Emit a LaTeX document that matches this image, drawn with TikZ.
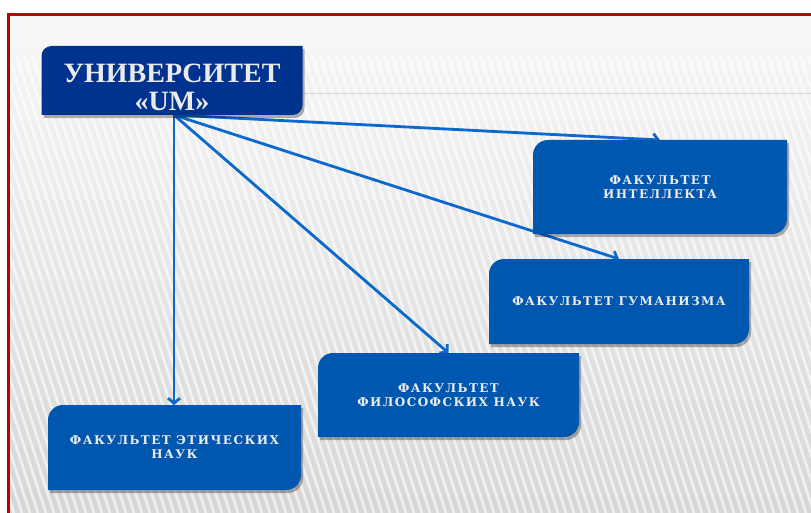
\documentclass[tikz,border=0pt]{standalone}
\usepackage{fontspec}
\setmainfont{DejaVu Serif}
\newfontfamily\unifont{Liberation Serif}
\newfontfamily\facfont{DejaVu Serif}[LetterSpace=12]
\usetikzlibrary{arrows.meta}
\definecolor{unblue}{HTML}{00338F}
\definecolor{facblue}{HTML}{0057B0}
\definecolor{arrblue}{HTML}{0B68CC}
\definecolor{framered}{HTML}{C00000}
\pgfdeclarelayer{bg}\pgfdeclarelayer{arrows}\pgfdeclarelayer{boxes}
\pgfsetlayers{bg,arrows,boxes,main}
% #1 node, #2 radius, #3 fill options, #4 xshift, #5 yshift
\newcommand\diagbox[5]{%
  \fill[#3,rounded corners=#2]
    ([xshift=#4,yshift=#5]#1.north west) rectangle ([xshift=#4,yshift=#5]#1.south east)
    [sharp corners]
    ([xshift=#4,yshift=#5,xshift=-#2]#1.north east) rectangle ([xshift=#4,yshift=#5,yshift=-#2]#1.north east)
    ([xshift=#4,yshift=#5,yshift=#2]#1.south west) rectangle ([xshift=#4,yshift=#5,xshift=#2]#1.south west);}
\tikzset{
  boxnode/.style={inner sep=0pt, outer sep=0pt, align=center, text=white!92!black},
  fac/.style={boxnode, font=\facfont\bfseries\fontsize{12pt}{14pt}\selectfont},
  uni/.style={boxnode, font=\unifont\bfseries\fontsize{28pt}{28pt}\selectfont},
  arr/.style={draw=arrblue, line width=2.8pt, -{Straight Barb[length=5pt,width=12pt]}},
}
\begin{document}
\begin{tikzpicture}[x=1pt,y=-1pt]
\useasboundingbox (0,0) rectangle (811,513);
% background
\begin{pgfonlayer}{bg}
  \fill[white] (0,0) rectangle (811,513);
  \begin{scope}
    \clip (8,14) rectangle (811,513);
    \fill[top color=black!3, bottom color=black!16] (8,14) rectangle (811,513);
    \foreach \x in {-240,-232,...,820}
      \draw[white,opacity=.6,line width=2.8pt] (\x,55) -- (\x+150,513);
    \fill[black!3] (8,14) rectangle (811,50);
  \end{scope}
  \draw[black!15, line width=0.8pt] (302,93) -- (811,93);
  \draw[framered, line width=3pt] (8.5,14.5) rectangle (840,540);
\end{pgfonlayer}
% nodes
\node[uni, minimum width=261pt, minimum height=69pt] (univ) at (172,80.5)
  {\raisebox{-10.5pt}[\height][\depth]{\begin{tabular}{@{}c@{}}УНИВЕРСИТЕТ\\«UM»\end{tabular}}};
\node[fac, minimum width=254pt, minimum height=94pt] (int) at (660,187)
  {ФАКУЛЬТЕТ\\ИНТЕЛЛЕКТА};
\node[fac, minimum width=260pt, minimum height=85pt] (hum) at (619,301.5)
  {ФАКУЛЬТЕТ ГУМАНИЗМА};
\node[fac, minimum width=261pt, minimum height=84pt] (phil) at (448.5,395)
  {ФАКУЛЬТЕТ\\ФИЛОСОФСКИХ НАУК};
\node[fac, minimum width=253pt, minimum height=85pt] (eth) at (174.5,447.5)
  {ФАКУЛЬТЕТ ЭТИЧЕСКИХ\\НАУК};
% boxes
\begin{pgfonlayer}{boxes}
  \foreach \n/\r in {int/15pt,hum/15pt,phil/15pt,eth/15pt,univ/10pt}{
    \diagbox{\n}{\r}{black,opacity=.3}{2pt}{-3pt}
  }
  \diagbox{univ}{10pt}{unblue}{0pt}{0pt}
  \foreach \n in {int,hum,phil,eth}{
    \diagbox{\n}{15pt}{facblue}{0pt}{0pt}
  }
\end{pgfonlayer}
% connectors
\begin{pgfonlayer}{arrows}
  \coordinate (hub) at ([xshift=2pt]univ.south);
  \draw[arr] (hub) -- (int.north);
  \draw[arr] (hub) -- (hum.north);
  \draw[arr] (hub) -- (phil.north);
  \draw[arr] (hub) -- (hub |- eth.north);
\end{pgfonlayer}
\end{tikzpicture}
\end{document}
